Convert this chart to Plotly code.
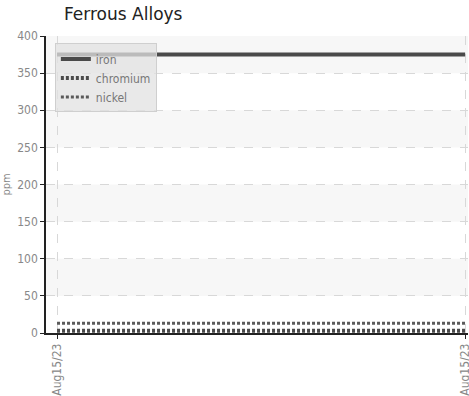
import plotly.graph_objects as go

dates = ["Aug15/23", "Aug15/23"]
x_pos = [0, 1]
iron = [375, 375]
chromium = [3, 3]
nickel = [13, 13]
y_ticks = [0, 50, 100, 150, 200, 250, 300, 350, 400]

fig = go.Figure()
line_col = "#4a4a4a"
fig.add_trace(go.Scatter(x=x_pos, y=iron, name="iron", mode="lines",
                         line=dict(color=line_col, width=4)))
fig.add_trace(go.Scatter(x=x_pos, y=chromium, name="chromium", mode="lines",
                         line=dict(color=line_col, width=4, dash="3px,2px")))
fig.add_trace(go.Scatter(x=x_pos, y=nickel, name="nickel", mode="lines",
                         line=dict(color="#5a5a5a", width=3, dash="3px,2px")))

shapes = []
for i in range(1, len(y_ticks) - 1, 2):
    shapes.append(dict(type="rect", xref="paper", yref="y", x0=0, x1=1,
                       y0=y_ticks[i], y1=y_ticks[i + 1], fillcolor="#f7f7f7",
                       line=dict(width=0), layer="below"))

cond = "DejaVu Sans Condensed, Liberation Sans Narrow, Roboto, sans-serif"
tickfont = dict(family=cond, size=12, color="#888888")

fig.update_layout(
    width=469, height=396,
    margin=dict(l=46, r=1, t=36, b=63),
    paper_bgcolor="white", plot_bgcolor="white",
    title=dict(text="Ferrous Alloys", x=64 / 469, xref="container", xanchor="left",
               y=1 - 14 / 396, yanchor="middle",
               font=dict(family="DejaVu Sans, sans-serif", size=17, color="#222222")),
    shapes=shapes,
    showlegend=True,
    legend=dict(x=0.021, y=0.975, xanchor="left", yanchor="top",
                bgcolor="rgba(226,226,226,0.75)", bordercolor="#cfcfcf", borderwidth=1,
                font=dict(family=cond, size=12, color="#777777"),
                tracegroupgap=0, itemwidth=30, entrywidth=125, entrywidthmode="pixels"),
    xaxis=dict(range=[-0.027, 1.007], tickvals=x_pos, ticktext=dates, tickangle=-90,
               showgrid=True, gridcolor="#d8d8d8", griddash="dash", gridwidth=1,
               showline=True, linecolor="#222222", linewidth=1.5,
               ticks="outside", ticklen=4, tickcolor="#222222",
               tickfont=tickfont, zeroline=False, automargin=False,
               ticklabeloverflow="allow"),
    yaxis=dict(range=[0, 400], tickvals=y_ticks,
               showgrid=True, gridcolor="#d8d8d8", griddash="dash", gridwidth=1,
               showline=True, linecolor="#222222", linewidth=1.5,
               ticks="outside", ticklen=4, tickcolor="#222222",
               tickfont=tickfont, zeroline=False, automargin=False,
               title=dict(text="ppm", font=dict(family=cond, size=11, color="#888888"), standoff=4)),
)

fig.write_html("out.html", config={"displayModeBar": False},
               post_script="document.body.style.margin='0';document.body.style.overflow='hidden';")
